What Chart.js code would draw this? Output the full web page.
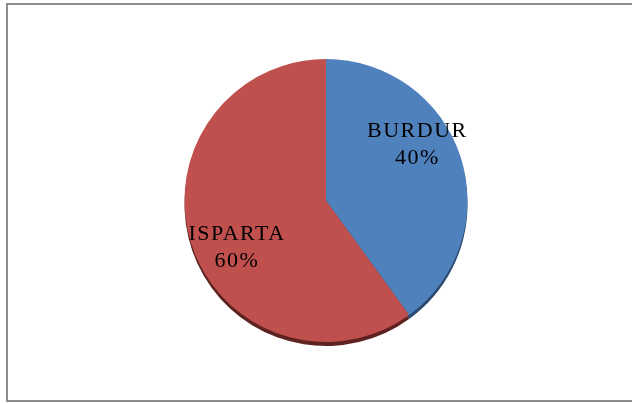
<!DOCTYPE html>
<html>
<head>
<meta charset="utf-8">
<script src="https://cdn.jsdelivr.net/npm/chart.js@4/dist/chart.umd.min.js"></script>
<style>
  html, body { margin: 0; padding: 0; background: #ffffff; }
  #wrap { position: relative; width: 632px; height: 403px; }
  #frame {
    position: absolute; left: 6px; top: 3px; right: -4px; bottom: 1px;
    border-top: 2px solid #8c8c8c; border-left: 2px solid #8c8c8c; border-bottom: 2px solid #8c8c8c;
    pointer-events: none;
  }
</style>
</head>
<body>
<div id="wrap">
  <canvas id="c" width="632" height="403"></canvas>
  <div id="frame"></div>
</div>
<script>
// Share of each province
const categories = ['BURDUR', 'ISPARTA'];
const shares = [40, 60];
const sliceColors = ['#4f81bd', '#c0504d'];
const rimColors = ['#2c4a70', '#5e2321'];

// Darker copy of each slice, shifted down, gives the pie its thin 3D edge
const rimPlugin = {
  id: 'rim',
  beforeDatasetsDraw(chart) {
    const ctx = chart.ctx;
    const meta = chart.getDatasetMeta(0);
    ctx.save();
    meta.data.forEach((arc, i) => {
      const { x, y, outerRadius, startAngle, endAngle } = arc.getProps(['x', 'y', 'outerRadius', 'startAngle', 'endAngle'], true);
      ctx.fillStyle = rimColors[i];
      ctx.beginPath();
      ctx.moveTo(x, y + 4);
      ctx.arc(x, y + 4, outerRadius, startAngle, endAngle);
      ctx.closePath();
      ctx.fill();
    });
    ctx.restore();
  }
};

// Category name and percentage written inside each slice
const sliceLabelPlugin = {
  id: 'sliceLabels',
  afterDatasetsDraw(chart, args, opts) {
    const ctx = chart.ctx;
    const meta = chart.getDatasetMeta(0);
    const total = shares.reduce((a, b) => a + b, 0);
    ctx.save();
    ctx.fillStyle = '#000000';
    ctx.textAlign = 'center';
    ctx.textBaseline = 'alphabetic';
    ctx.font = '22px "Liberation Serif", "Times New Roman", serif';
    if ('letterSpacing' in ctx) ctx.letterSpacing = '1.5px';
    meta.data.forEach((arc, i) => {
      const { x, y, outerRadius } = arc.getProps(['x', 'y', 'outerRadius'], true);
      const place = opts.places[i];
      const a = place.angle * Math.PI / 180;
      const cx = x + Math.sin(a) * place.dist * outerRadius;
      const cy = y - Math.cos(a) * place.dist * outerRadius;
      ctx.fillText(categories[i], cx, cy - 4);
      ctx.fillText(Math.round(shares[i] / total * 100) + '%', cx, cy + 23);
    });
    ctx.restore();
  }
};

new Chart(document.getElementById('c'), {
  type: 'pie',
  data: {
    labels: categories,
    datasets: [{
      data: shares,
      backgroundColor: sliceColors,
      borderWidth: 0,
      hoverOffset: 0
    }]
  },
  options: {
    responsive: false,
    animation: false,
    events: [],
    rotation: 0,
    layout: { padding: { left: 30, right: 10, top: 59, bottom: 61 } },
    plugins: {
      legend: { display: false },
      tooltip: { enabled: false },
      sliceLabels: {
        places: [
          { angle: 57, dist: 0.77 },
          { angle: 244, dist: 0.70 }
        ]
      }
    }
  },
  plugins: [rimPlugin, sliceLabelPlugin]
});
</script>
</body>
</html>
